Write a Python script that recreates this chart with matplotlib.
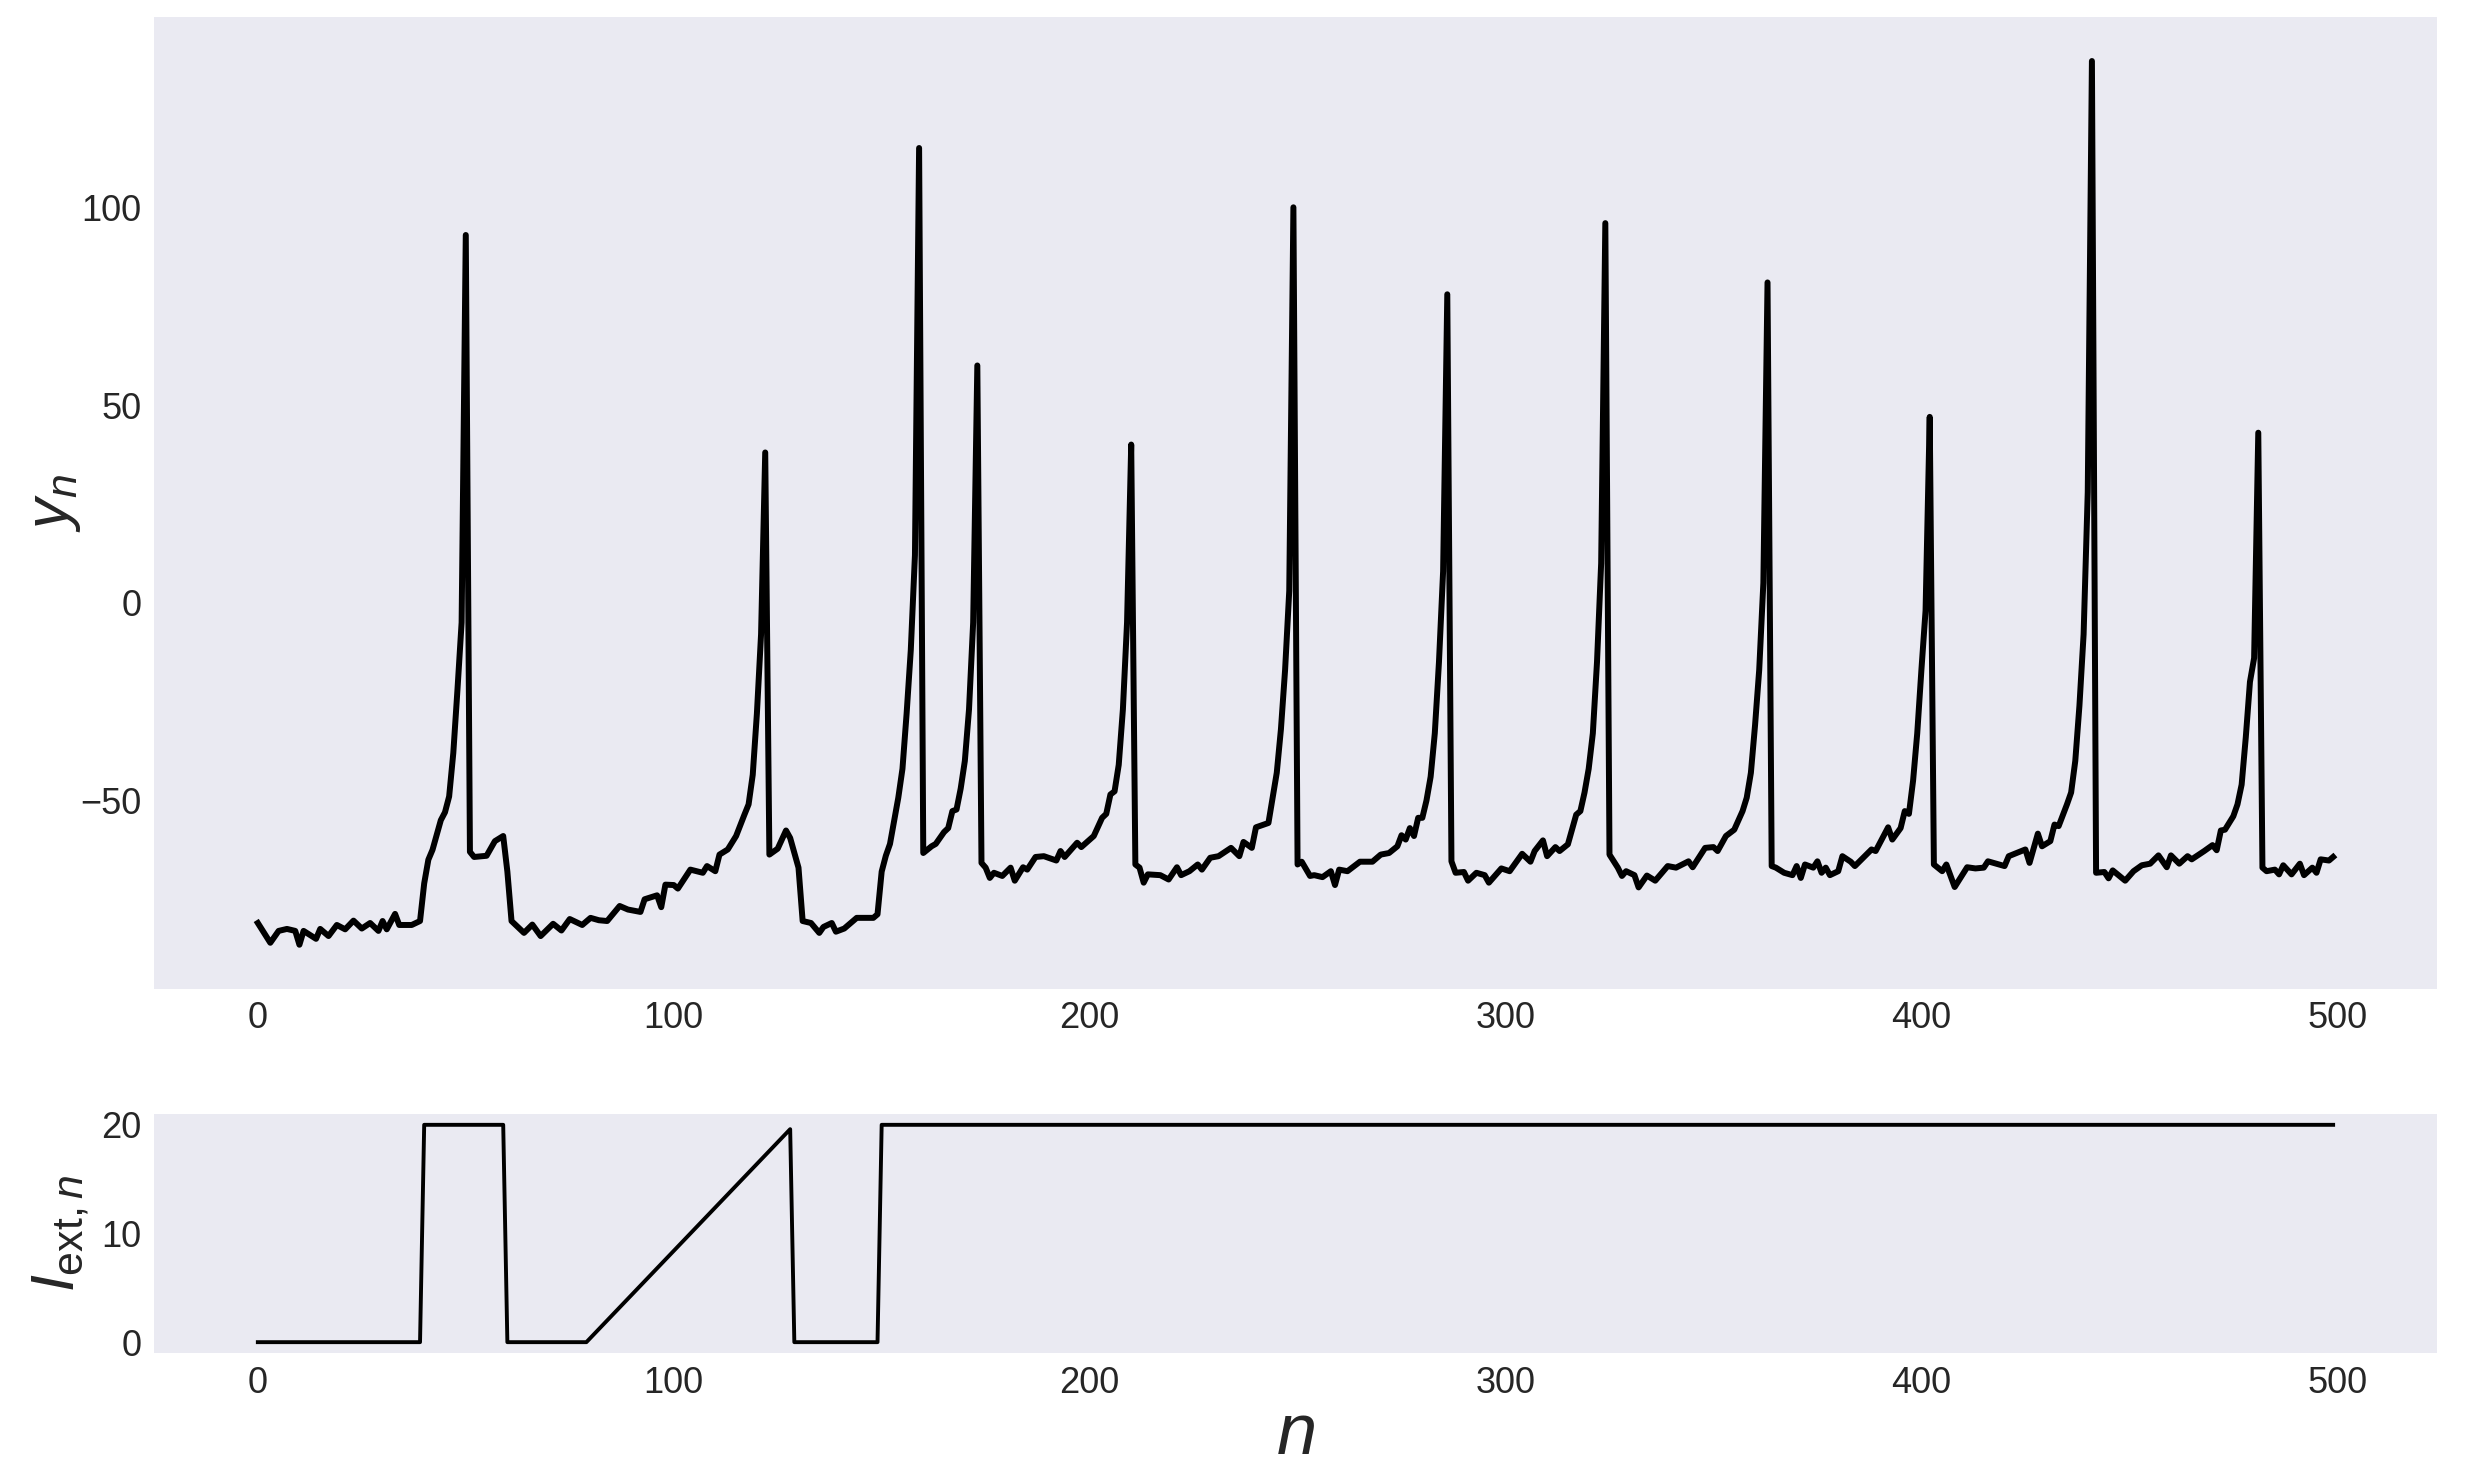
import matplotlib
matplotlib.use("Agg")
import matplotlib.pyplot as plt

plt.rcParams['font.family'] = ['Liberation Sans', 'DejaVu Sans']
plt.rcParams['mathtext.fontset'] = 'custom'
plt.rcParams['mathtext.it'] = 'Liberation Sans:italic'
plt.rcParams['mathtext.rm'] = 'Liberation Sans'
plt.rcParams['mathtext.bf'] = 'Liberation Sans:bold'

# ---- membrane variable y_n (vertices) ----
n_y = [0, 3, 5, 7, 9, 10, 11, 14, 15, 17, 19, 21, 23, 25, 27, 29, 30, 31, 33, 34, 37, 39,
       40, 41, 42, 44, 45, 46, 47, 48, 49, 50, 51, 52, 55, 57, 59, 60, 61, 64, 66, 68, 71,
       73, 75, 78, 80, 82, 84, 87, 89, 92, 93, 96, 97, 98, 100, 101, 104, 107, 108, 110,
       111, 113, 115, 117, 118, 119, 120, 121, 122, 123, 125, 127, 128, 130, 131, 133, 135,
       136, 138, 139, 141, 144, 148, 149, 150, 151, 152, 154, 155, 156, 157, 158, 159, 160,
       162, 163, 165, 166, 167, 168, 169, 170, 171, 172, 173, 174, 175, 176, 177, 179, 181,
       182, 184, 185, 187, 189, 192, 193, 194, 197, 198, 201, 203, 204, 205, 206, 207, 208,
       209, 210, 211, 212, 213, 214, 217, 219, 221, 222, 224, 226, 227, 229, 231, 234, 236,
       237, 239, 240, 243, 244, 245, 246, 247, 248, 249, 250, 251, 253, 254, 256, 258, 259,
       260, 262, 265, 268, 270, 272, 274, 275, 276, 277, 278, 279, 280, 281, 282, 283, 284,
       285, 286, 287, 288, 290, 291, 293, 295, 296, 299, 301, 304, 306, 307, 309, 310, 312,
       313, 315, 317, 318, 319, 320, 321, 322, 323, 324, 325, 327, 328, 329, 331, 332, 334,
       336, 339, 341, 344, 345, 348, 350, 351, 353, 355, 357, 358, 359, 360, 361, 362, 363,
       364, 365, 367, 369, 370, 371, 372, 374, 375, 376, 377, 378, 380, 381, 383, 384, 386,
       388, 389, 392, 393, 395, 396, 397, 398, 399, 400, 401, 402, 403, 405, 406, 408, 411,
       413, 415, 416, 419, 420, 421, 425, 426, 428, 429, 431, 432, 433, 435, 436, 437, 438,
       439, 440, 441, 442, 444, 445, 446, 449, 451, 453, 455, 457, 459, 460, 462, 464, 465,
       468, 470, 471, 472, 473, 475, 476, 477, 478, 479, 480, 481, 482, 483, 485, 486, 487,
       489, 491, 492, 494, 495, 496, 498, 499]
y_vals = [-81, -86, -83, -82.5, -83, -86.5, -83, -85, -82.5, -84.3, -81.5, -82.6, -80.4,
          -82.4, -81, -83, -80.5, -82.6, -78.7, -81.5, -81.5, -80.5,
          -71, -65, -62.5, -55, -53, -49, -38, -22, -5, 93, -63, -64.3, -64, -60.3, -59, -68,
          -80.5, -83.5, -81.4, -84.3, -81.2, -82.9, -80, -81.5, -79.7, -80.3, -80.5, -76.7,
          -77.6, -78.2, -75, -74, -77, -71.3, -71.4, -72.3, -67.5, -68.3, -66.6, -67.9,
          -63.7, -62.4, -59, -53.6, -51, -43.5, -28, -8, 38, -63.7, -62.2, -57.6, -59.5, -67,
          -80.5, -81, -83.5, -82, -81, -83.2, -82.4, -79.7, -79.7, -78.8, -68, -64, -61,
          -49.3, -42, -28, -12, 12, 115, -63.3, -61.6, -61, -58, -57, -52.7, -52.3, -47, -40,
          -27, -5, 60, -65.8, -67, -69.6, -68.3, -69.1, -67, -70.3, -66.9, -67.5, -64.3,
          -64.1, -65.2, -62.8, -64.3, -60.7, -61.8, -59, -54.4, -53.4, -48.5, -47.7, -41,
          -27, -5, 40, -66.2, -67, -70.8, -68.7, -68.9, -70, -66.9, -68.9, -67.9, -66.2,
          -67.5, -64.5, -64.1, -62, -64.1, -60.5, -62, -56.8, -55.7, -49.3, -43, -32, -17,
          3, 100, -66.2, -65.5, -69.1, -68.9, -69.4, -67.9, -71.4, -67.5, -67.9, -65.5,
          -65.5, -63.7, -63.3, -61.6, -58.8, -59.9, -57, -59, -54.4, -54.4, -50, -44, -33,
          -15, 8, 78, -65.4, -68.3, -68.1, -70.3, -68.3, -68.9, -70.8, -67.2, -67.9, -63.5,
          -65.5, -62.8, -60.1, -64.1, -61.8, -62.8, -61.1, -53.6, -52.7, -48, -42, -33, -15,
          10, 96, -63.7, -67, -69.1, -67.9, -68.9, -72, -69, -70.3, -66.6, -67, -65.4, -66.9,
          -62, -61.8, -62.8, -59, -57.4, -52.7, -49.3, -43, -31, -17, 5, 81, -66.6, -67,
          -68.3, -68.9, -66.6, -69.6, -66.2, -67, -65.4, -68.3, -67, -68.9, -67.9, -64.1,
          -65.5, -66.6, -64.5, -62.4, -62.8, -56.8, -59.9, -57, -52.7, -53.4, -45, -33, -17,
          -2, 47, -66.2, -67.9, -66.2, -71.9, -66.9, -67.2, -67, -65.4, -66.3, -66.6, -64.1,
          -62.4, -65.8, -58.4, -61.6, -60.3, -56.1, -56.5, -51, -48, -40, -26, -8, 28, 137,
          -68.3, -68.1, -69.7, -67.7, -70.3, -67.9, -66.4, -66, -63.9, -66.9, -63.9, -66,
          -64.1, -64.9, -62.8, -61.3, -62.6, -57.6, -57.4, -54, -51, -46, -34, -20, -14, 43,
          -67, -67.9, -67.5, -68.7, -66.4, -68.7, -66, -68.9, -67, -68.3, -64.9, -65.2, -64.3]

# ---- external current I_ext,n (corner points) ----
n_I = [0, 39, 40, 59, 60, 79, 128, 129, 149, 150, 499]
I_vals = [0, 0, 20, 20, 0, 0, 19.6, 0, 0, 20, 20]

x_ticks = [0, 100, 200, 300, 400, 500]

bg = '#EAEAF2'
txt = '#262626'

fig = plt.figure(figsize=(24.69, 14.64), dpi=100)
ax1 = fig.add_axes([0.0624, 0.3245, 0.9246, 0.664])
ax2 = fig.add_axes([0.0624, 0.0758, 0.9246, 0.1633])

for ax in (ax1, ax2):
    ax.set_facecolor(bg)
    for s in ax.spines.values():
        s.set_visible(False)
    ax.grid(False)
    ax.tick_params(length=0, pad=9, labelsize=26, colors=txt)
    ax.set_xticks(x_ticks)

ax1.plot(n_y, y_vals, color='black', lw=4.3)
ax1.set_xlim(-24.95, 523.95)
ax1.set_yticks([-50, 0, 50, 100])
ax1.set_ylabel(r'$y_n$', fontsize=44, color=txt, labelpad=-2)

ax2.plot(n_I, I_vals, color='black', lw=2.8)
ax2.set_xlim(-24.95, 523.95)
ax2.set_yticks([0, 10, 20])
ax2.set_ylabel(r'$I_{\mathrm{ext},n}$', fontsize=44, color=txt, labelpad=7)
ax2.set_xlabel(r'$n$', fontsize=52, color=txt, labelpad=1)

fig.savefig('out.png', dpi=100, facecolor='white')
